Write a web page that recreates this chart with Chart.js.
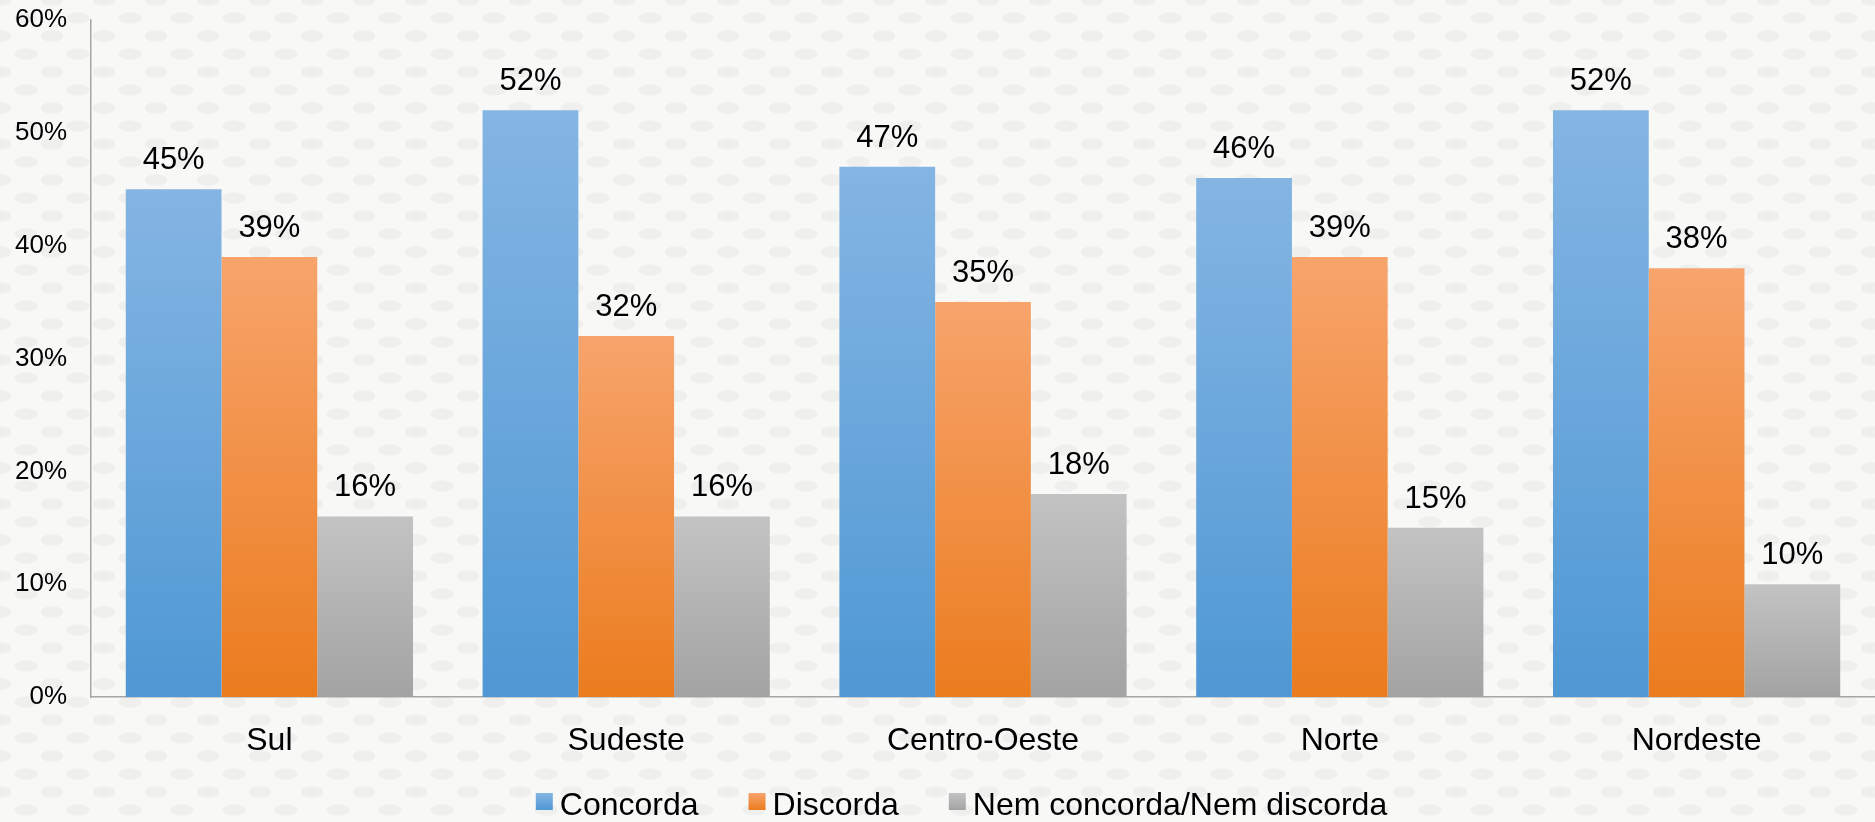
<!DOCTYPE html>
<html>
<head>
<meta charset="utf-8">
<script src="https://cdn.jsdelivr.net/npm/chart.js@4.4.1/dist/chart.umd.min.js"></script>
<style>
    html, body {
        margin: 0;
        padding: 0;
        width: 1875px;
        height: 822px;
        overflow: hidden;
    }
    body {
        background-color: #f8f8f7;
        background-image:
            radial-gradient(ellipse 12px 6px at center, #efefee 90%, rgba(239,239,238,0) 100%),
            radial-gradient(ellipse 12px 6px at center, #efefee 90%, rgba(239,239,238,0) 100%);
        background-size: 52px 36px, 52px 36px;
        background-position: 0 0, 26px 18px;
    }
    #wrap {
        position: relative;
        width: 1875px;
        height: 822px;
    }
</style>
</head>
<body>
<div id="wrap"><canvas id="regioesChart"></canvas></div>
<script>
const regioes = ['Sul', 'Sudeste', 'Centro-Oeste', 'Norte', 'Nordeste'];
const concorda = [45, 52, 47, 46, 52];
const discorda = [39, 32, 35, 39, 38];
const nemNem = [16, 16, 18, 15, 10];
const yTicks = [0, 10, 20, 30, 40, 50, 60];

const FONT = "'Liberation Sans', Arial, sans-serif";

// cores: topo claro -> base escura, como no original
const palette = [
    { top: '#84b5e3', bottom: '#4f98d4' },
    { top: '#f7a46c', bottom: '#eb7c1e' },
    { top: '#c3c3c3', bottom: '#a3a3a3' }
];

function barGradient(idx) {
    return function(context) {
        const chart = context.chart;
        const { ctx, chartArea, scales } = chart;
        if (!chartArea || context.raw === undefined) return palette[idx].bottom;
        const top = scales.y.getPixelForValue(context.raw);
        const bottom = scales.y.getPixelForValue(0);
        const g = ctx.createLinearGradient(0, top, 0, bottom);
        g.addColorStop(0, palette[idx].top);
        g.addColorStop(1, palette[idx].bottom);
        return g;
    };
}

// rótulos de valor acima das barras
const valueLabels = {
    id: 'valueLabels',
    afterDatasetsDraw(chart) {
        const ctx = chart.ctx;
        ctx.save();
        ctx.font = '31px ' + FONT;
        ctx.fillStyle = '#000';
        ctx.textAlign = 'center';
        ctx.textBaseline = 'alphabetic';
        chart.data.datasets.forEach((ds, i) => {
            chart.getDatasetMeta(i).data.forEach((bar, j) => {
                ctx.fillText(ds.data[j] + '%', bar.x, bar.y - 20);
            });
        });
        ctx.restore();
    }
};

// legenda desenhada à mão (caixa colada ao texto)
const bottomLegend = {
    id: 'bottomLegend',
    afterDraw(chart) {
        const ctx = chart.ctx;
        const box = 17, gap = 7, itemGap = 50;
        ctx.save();
        ctx.font = '32px ' + FONT;
        const items = chart.data.datasets.map((ds, i) => ({
            text: ds.label,
            w: ctx.measureText(ds.label).width,
            color: palette[i]
        }));
        let total = items.reduce((s, it) => s + box + gap + it.w, 0) + itemGap * (items.length - 1);
        let x = 961.5 - total / 2;
        const boxTop = 793, baseline = 815;
        items.forEach(it => {
            const g = ctx.createLinearGradient(0, boxTop, 0, boxTop + box);
            g.addColorStop(0, it.color.top);
            g.addColorStop(1, it.color.bottom);
            ctx.fillStyle = g;
            ctx.fillRect(x, boxTop, box, box);
            ctx.fillStyle = '#000';
            ctx.textBaseline = 'alphabetic';
            ctx.textAlign = 'left';
            ctx.fillText(it.text, x + box + gap, baseline);
            x += box + gap + it.w + itemGap;
        });
        ctx.restore();
    }
};

const ctx = document.getElementById('regioesChart').getContext('2d');

new Chart(ctx, {
    type: 'bar',
    data: {
        labels: regioes,
        datasets: [
            { label: 'Concorda', data: concorda, backgroundColor: barGradient(0) },
            { label: 'Discorda', data: discorda, backgroundColor: barGradient(1) },
            { label: 'Nem concorda/Nem discorda', data: nemNem, backgroundColor: barGradient(2) }
        ]
    },
    options: {
        responsive: true,
        maintainAspectRatio: false,
        animation: false,
        layout: {
            padding: { top: 20, right: 0, bottom: 0, left: 0 }
        },
        datasets: {
            bar: {
                categoryPercentage: 0.805,
                barPercentage: 1.0,
                borderWidth: 0
            }
        },
        plugins: {
            legend: { display: false },
            tooltip: { enabled: false }
        },
        scales: {
            x: {
                grid: { display: false, drawTicks: false },
                border: { display: true, color: '#a6a6a6', width: 1.5 },
                ticks: {
                    color: '#000',
                    font: { family: FONT, size: 32 },
                    padding: 25,
                    maxRotation: 0
                },
                afterFit(scale) { scale.height = 125; }
            },
            y: {
                min: 0,
                max: 60,
                grid: { display: false, drawTicks: false },
                border: { display: true, color: '#a6a6a6', width: 1.5 },
                afterBuildTicks(scale) {
                    scale.ticks = yTicks.map(v => ({ value: v }));
                },
                ticks: {
                    color: '#000',
                    font: { family: FONT, size: 26 },
                    padding: 24,
                    callback: v => v + '%'
                },
                afterFit(scale) {
                    scale.width = 91;
                    // sem folga extra no topo; o eixo começa logo em 60%
                    scale.paddingTop = 0;
                    scale.paddingBottom = 0;
                }
            }
        }
    },
    plugins: [valueLabels, bottomLegend]
});
</script>
</body>
</html>
